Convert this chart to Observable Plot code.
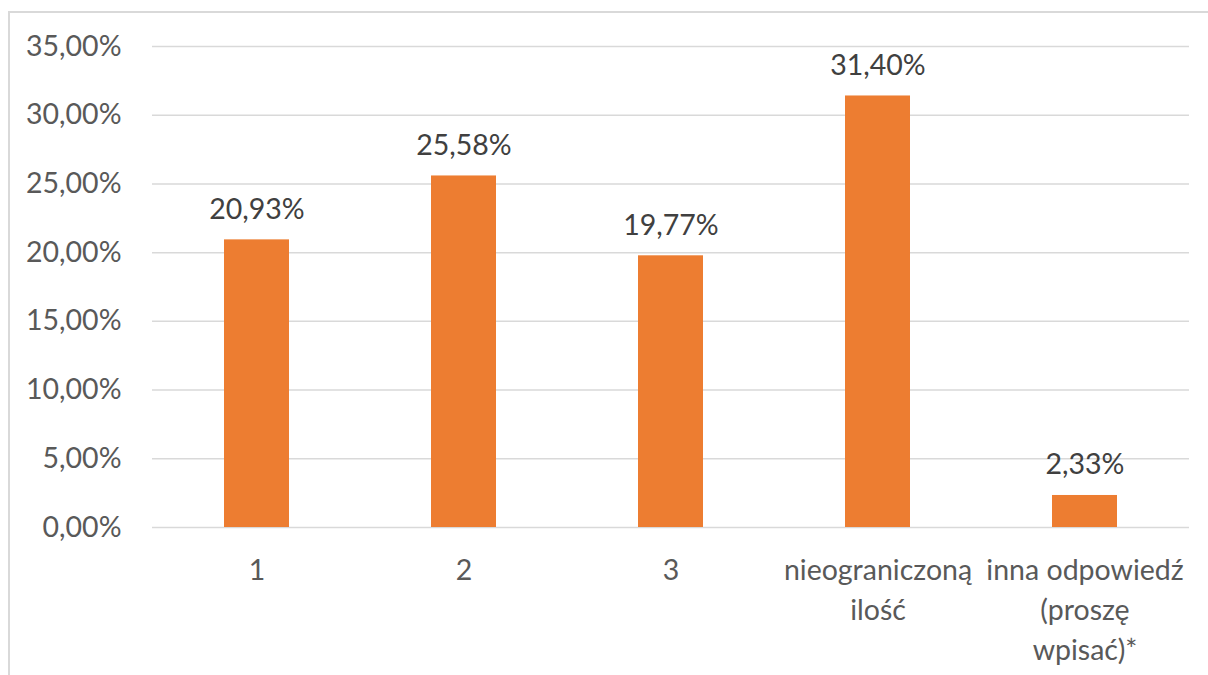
<!DOCTYPE html>
<html>
<head>
<meta charset="utf-8">
<script src="https://cdn.jsdelivr.net/npm/d3@7"></script>
<script src="https://cdn.jsdelivr.net/npm/@observablehq/plot@0.6"></script>
<style>
  html, body { margin: 0; padding: 0; background: #fff; overflow: hidden; }
  #wrap { position: relative; width: 1208px; height: 675px; }
  #border { position: absolute; left: 8px; top: 11px; width: 1240px; height: 720px; border: 2px solid #d9d9d9; box-sizing: border-box; }
  #chart { position: absolute; left: 0; top: 0; }
</style>
</head>
<body>
<div id="wrap"><div id="border"></div><div id="chart"></div></div>
<script>
const categories = ["1", "2", "3", "nieograniczoną ilość", "inna odpowiedź (proszę wpisać)*"];
const values = [0.2093, 0.2558, 0.1977, 0.3140, 0.0233];
const tickLabels = ["1", "2", "3", "nieograniczoną\nilość", "inna odpowiedź\n(proszę\nwpisać)*"];
const yTicks = [0, 0.05, 0.10, 0.15, 0.20, 0.25, 0.30, 0.35];

const data = categories.map((c, i) => ({category: c, value: values[i]}));
const pct = v => (v * 100).toFixed(2).replace(".", ",") + "%";
const labelOf = c => tickLabels[categories.indexOf(c)];

const font = "Lato, 'Open Sans', sans-serif";
const fs = 28.5;

const chart = Plot.plot({
  width: 1208,
  height: 675,
  marginLeft: 152,
  marginRight: 19,
  marginTop: 46,
  marginBottom: 148,
  style: {fontFamily: font, fontSize: fs + "px", background: "transparent", overflow: "visible"},
  x: {domain: categories, paddingInner: 0.686, paddingOuter: 0.343, label: null},
  y: {domain: [0, 0.35], label: null},
  marks: [
    Plot.gridY(yTicks, {stroke: "#d9d9d9", strokeOpacity: 1, strokeWidth: 1.5}),
    Plot.axisY(yTicks, {tickSize: 0, tickPadding: 31, tickFormat: pct, fill: "#595959", fontSize: fs, label: null}),
    Plot.axisX({tickSize: 0, tickPadding: 24, tickFormat: labelOf, fill: "#595959", fontSize: fs, lineHeight: 1.4, label: null}),
    Plot.barY(data, {x: "category", y: "value", fill: "#ED7D31"}),
    Plot.text(data, {x: "category", y: "value", text: d => pct(d.value), lineAnchor: "bottom", dy: -21, fill: "#404040", fontSize: fs})
  ]
});
document.getElementById("chart").appendChild(chart);
</script>
</body>
</html>
